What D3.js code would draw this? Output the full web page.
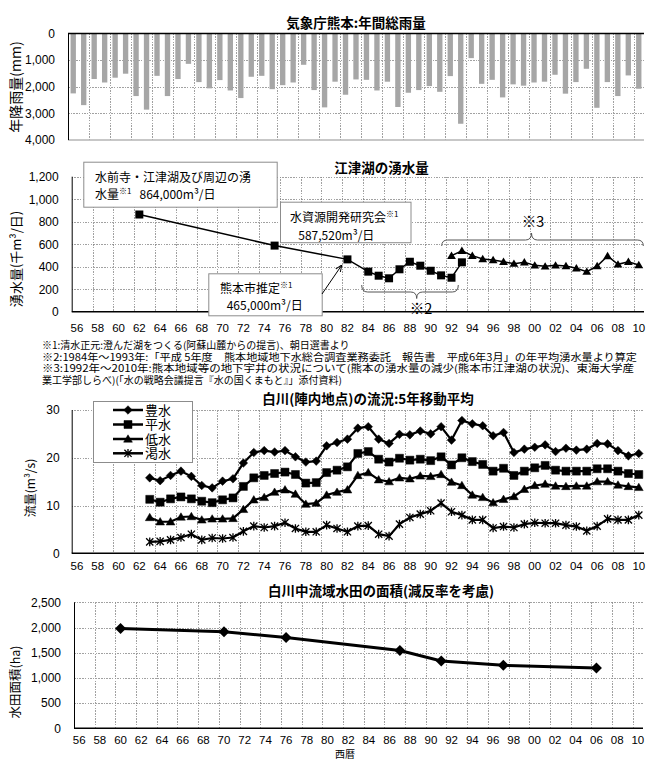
<!DOCTYPE html>
<html><head><meta charset="utf-8">
<script src="https://cdn.jsdelivr.net/npm/d3@7"></script>
<style>
body{margin:0;background:#fff}
svg{display:block}
text{font-family:"Liberation Sans","Noto Sans CJK JP",sans-serif;fill:#000}
.jp{font-family:"Noto Sans CJK JP",sans-serif}
.grid{stroke:#8a8a8a;stroke-width:0.8;stroke-dasharray:1.5,1.2;shape-rendering:crispEdges}
</style>
</head><body>
<svg id="c" width="646" height="760"></svg>
<script>
// ---------- DATA ----------
const years = d3.range(1956, 2011);
const tickYears = d3.range(1956, 2011, 2);
const tickLabels = ["56","58","60","62","64","66","68","70","72","74","76","78","80","82","84","86","88","90","92","94","96","98","00","02","04","06","08","10"];

// 気象庁熊本 年間総雨量 (mm), 1956-2010
const rainfall = [2250,2690,1710,1840,1660,1510,2350,2860,1590,2350,1710,1140,1825,2060,1750,2140,2425,1625,
  1590,2090,1940,1840,1175,2125,2775,1810,2300,1725,1740,2140,1810,2760,2225,2125,1975,2190,
  1600,3390,925,1890,1740,2400,1910,1960,1840,1810,1550,2260,1825,1325,2790,1825,2350,1575,2075];
const rainTicks = [0,1000,2000,3000,4000];

// 江津湖の湧水量 (千m3/日)
const springSqYears = [1962,1975,1982,1984,1985,1986,1987,1988,1989,1990,1991,1992,1993];
const springSqVals  = [864,587.52,465,356,320,297,377,444,409,364,323,302,439];
const springTriYears = d3.range(1992, 2011);
const springTriVals  = [498,542,498,468,460,444,427,439,412,403,412,406,386,356,406,495,421,444,415];
const springTicks = [0,200,400,600,800,1000,1200];

// 白川(陣内地点)の流況 5年移動平均 (m3/s), 1963-2010
const flowYears = d3.range(1963, 2011);
const flowNames = ["豊水","平水","低水","渇水"];
const houSui = [15.8,15.2,16.3,17.2,16.1,14.2,13.7,15.1,15.6,18.9,21.1,21.5,21.2,21.5,20.2,19.1,19.3,22.5,
  23.2,23.9,26.2,26.5,23.9,23.0,24.9,24.8,25.6,25.0,26.5,23.7,27.8,27.1,26.7,24.6,25.3,21.1,21.8,22.2,22.7,21.3,22.0,21.6,21.8,23.0,22.9,21.5,20.4,20.9];
const heiSui = [11.3,10.7,11.4,11.8,11.4,10.9,10.6,11.2,11.6,14.0,15.8,16.3,16.7,17.0,16.5,14.7,14.8,16.9,
  17.4,18.1,20.9,21.3,19.7,19.1,19.9,19.5,19.7,19.4,20.2,18.5,20.0,19.2,18.6,17.2,17.8,16.3,17.2,17.9,18.4,17.4,17.2,17.2,17.2,17.7,17.7,17.2,16.7,16.5];
const teiSui = [7.5,6.6,6.6,7.6,7.7,7.0,7.2,7.2,7.3,9.2,11.2,11.7,12.8,13.3,12.4,10.3,10.5,12.2,
  12.8,13.3,16.3,16.9,15.4,15.0,15.8,15.6,16.2,16.1,16.5,14.9,14.2,12.2,11.7,10.6,11.3,11.9,13.4,14.2,14.5,14.1,14.0,14.1,14.1,15.0,15.0,14.3,14.0,13.8];
const kassui = [2.4,2.5,2.8,3.3,4.0,2.8,3.2,3.1,3.3,4.6,5.7,5.4,5.7,6.4,5.2,4.5,4.5,5.9,
  5.2,4.5,5.7,5.8,4.0,3.6,6.1,7.5,8.2,8.9,10.5,8.7,8.0,7.0,7.0,5.3,5.6,5.4,6.1,6.4,6.3,6.3,5.9,5.6,4.7,5.7,7.2,7.0,7.0,8.0];
const flowTicks = [0,10,20,30];

// 白川中流域水田の面積 (ha)
const paddyYears = [1960,1970,1976,1987,1991,1997,2006];
const paddyVals  = [1980,1915,1800,1545,1335,1250,1195];
const paddyTicks = [0,500,1000,1500,2000,2500];

// ---------- DRAW ----------
const svg = d3.select("#c");
const fmt = d3.format(",");

function panel(o) {
  const x = d3.scaleBand().domain(years).range([o.left, o.right]);
  const y = d3.scaleLinear().domain([0, d3.max(o.ticks)]).range(o.reverse ? [o.top, o.bottom] : [o.bottom, o.top]);
  const g = svg.append("g");
  g.selectAll(null).data(tickYears.slice(1)).join("line").attr("class","grid")
    .attr("x1", d => Math.round(x(d)) + 0.5).attr("x2", d => Math.round(x(d)) + 0.5)
    .attr("y1", o.top).attr("y2", o.bottom);
  g.selectAll(null).data(o.ticks.filter(t => t !== 0 && !(o.reverse && t === d3.max(o.ticks)))).join("line").attr("class","grid")
    .attr("x1", o.left).attr("x2", o.right)
    .attr("y1", d => Math.round(y(d)) + 0.5).attr("y2", d => Math.round(y(d)) + 0.5);
  const ya = g.append("g").attr("transform", `translate(${o.left},0)`)
    .call(d3.axisLeft(y).tickValues(o.ticks).tickSize(0).tickPadding(o.yPad).tickFormat(fmt));
  ya.select(".domain").remove();
  ya.selectAll("text").style("font-size", "12px").style("font-family", "Liberation Sans");
  if (o.showX) {
    const xa = g.append("g").attr("transform", `translate(0,${o.bottom})`)
      .call(d3.axisBottom(x).tickValues(tickYears).tickSize(0).tickPadding(o.xPad).tickFormat((d, i) => tickLabels[i]));
    xa.select(".domain").remove();
    xa.selectAll("text").style("font-size", "11.5px").style("font-family", "Liberation Sans");
  }
  return {x, y, g};
}
function axesLines(p, o) {
  p.g.append("line").attr("x1", o.left + 0.5).attr("x2", o.left + 0.5).attr("y1", o.top).attr("y2", o.bottom)
    .attr("stroke", "#000").attr("stroke-width", 1);
  const yb = o.reverse ? o.top : o.bottom;
  p.g.append("line").attr("x1", o.left).attr("x2", o.right).attr("y1", yb).attr("y2", yb)
    .attr("stroke", "#000").attr("stroke-width", 1.5);
}
function title(txt, cx, y) {
  svg.append("text").attr("class","jp").attr("x", cx).attr("y", y).attr("text-anchor","middle")
    .style("font-size","13.5px").style("font-weight","bold").text(txt);
}
function ylabel(txt, x, cy, size) {
  svg.append("text").attr("class","jp").attr("transform", `translate(${x},${cy}) rotate(-90)`)
    .attr("text-anchor","middle").attr("dominant-baseline","middle").style("font-size", size + "px").text(txt);
}
const diamond = r => `M0,${-r}L${r},0L0,${r}L${-r},0Z`;
const square = r => `M${-r},${-r}H${r}V${r}H${-r}Z`;
const triangle = r => `M0,${-r*1.05}L${r*1.1},${r*0.8}L${-r*1.1},${r*0.8}Z`;
const star = r => `M${-r},${-r}L${r},${r}M${-r},${r}L${r},${-r}M0,${-r*1.2}L0,${r*1.2}`;

// ===== Chart 1: rainfall =====
const o1 = {left:68, right:644, top:33.5, bottom:140, ticks:rainTicks, reverse:true, yPad:13, showX:false};
const p1 = panel(o1);
p1.g.selectAll(null).data(rainfall).join("rect")
  .attr("x", (d, i) => p1.x(years[i]) + p1.x.bandwidth() * 0.245)
  .attr("width", p1.x.bandwidth() * 0.51)
  .attr("y", p1.y(0)).attr("height", d => p1.y(d) - p1.y(0))
  .attr("fill", "#a6a6a6");
p1.g.append("line").attr("x1", o1.left).attr("x2", o1.right).attr("y1", o1.bottom).attr("y2", o1.bottom)
  .attr("stroke", "#b5b5b5").attr("stroke-width", 1.5);
axesLines(p1, o1);
title("気象庁熊本:年間総雨量", 356, 28);
ylabel("年降雨量(mm)", 17, 87, 14);

// ===== Chart 2: spring water =====
const o2 = {left:71.7, right:644, top:176.7, bottom:311.7, ticks:springTicks, yPad:13, xPad:12.5, showX:true};
const p2 = panel(o2);
axesLines(p2, o2);
const cx2 = d => p2.x(d) + p2.x.bandwidth() / 2;
const sq = springSqYears.map((yr, i) => ({yr, v: springSqVals[i]}));
const tr = springTriYears.map((yr, i) => ({yr, v: springTriVals[i]}));
const line2 = d3.line().x(d => cx2(d.yr)).y(d => p2.y(d.v));
p2.g.append("path").attr("d", line2(sq)).attr("fill","none").attr("stroke","#000").attr("stroke-width",1.5);
p2.g.append("path").attr("d", line2(tr)).attr("fill","none").attr("stroke","#000").attr("stroke-width",1.5);
p2.g.selectAll(null).data(sq).join("path").attr("d", square(4))
  .attr("transform", d => `translate(${cx2(d.yr)},${p2.y(d.v)})`).attr("fill","#000");
p2.g.selectAll(null).data(tr).join("path").attr("d", triangle(4))
  .attr("transform", d => `translate(${cx2(d.yr)},${p2.y(d.v)})`).attr("fill","#000");
title("江津湖の湧水量", 381.5, 173);
ylabel("湧水量(千m³/日)", 17, 259, 13);

// braces
const brace = (x1, x2, xt, yEnd, yMid, yTip) =>
  `M${x1},${yEnd}Q${x1},${yMid} ${x1+6},${yMid}L${xt-6},${yMid}Q${xt},${yMid} ${xt},${yTip}` +
  `Q${xt},${yMid} ${xt+6},${yMid}L${x2-6},${yMid}Q${x2},${yMid} ${x2},${yEnd}`;
svg.append("path").attr("d", brace(361.7, 458.3, 416.7, 285, 292, 298.5)).attr("fill","none").attr("stroke","#555").attr("stroke-width",1);
svg.append("path").attr("d", brace(441.7, 643.3, 531.5, 246, 240, 233)).attr("fill","none").attr("stroke","#555").attr("stroke-width",1);
svg.append("text").attr("class","jp").attr("x", 421).attr("y", 313.5).attr("text-anchor","middle").style("font-size","14.5px").text("※2");
svg.append("text").attr("class","jp").attr("x", 533).attr("y", 227).attr("text-anchor","middle").style("font-size","14.5px").text("※3");

// annotation boxes
function box(x, y, w, h) {
  svg.append("rect").attr("x", x + 0.5).attr("y", y + 0.5).attr("width", w).attr("height", h)
    .attr("fill", "#fff").attr("stroke", "#8c8c8c").attr("stroke-width", 1);
}
function supText(x, y, parts) {
  const t = svg.append("text").attr("x", x).attr("y", y).attr("class","jp").style("font-size","12px");
  parts.forEach(p => {
    const ts = t.append("tspan").text(p.t);
    if (p.sup) ts.style("font-size","8px").attr("dy", -5);
    if (p.after) ts.attr("dy", 5);
    if (p.dx) ts.attr("dx", p.dx);
  });
}
box(83.3, 161.7, 193.4, 45);
supText(95, 182, [{t:"水前寺・江津湖及び周辺の湧"}]);
supText(95, 199, [{t:"水量"}, {t:"※1", sup:true}, {t:"864,000m³/日", after:true, dx:8}]);
box(280, 201.7, 130.5, 40.5);
supText(290, 222, [{t:"水資源開発研究会"}, {t:"※1", sup:true}]);
supText(298.3, 239.5, [{t:"587,520m³/日"}]);
box(208.3, 273.3, 113.4, 42);
supText(220, 293, [{t:"熊本市推定"}, {t:"※1", sup:true}]);
supText(226.7, 310, [{t:"465,000m³/日"}]);
// arrow
svg.append("defs").append("marker").attr("id","ah").attr("viewBox","0 0 10 10").attr("refX",9).attr("refY",5)
  .attr("markerWidth",7).attr("markerHeight",7).attr("orient","auto")
  .append("path").attr("d","M0,1L10,5L0,9").attr("fill","none").attr("stroke","#000").attr("stroke-width",1.4);
svg.append("line").attr("x1", 322).attr("y1", 294).attr("x2", 341.5).attr("y2", 265.5)
  .attr("stroke","#000").attr("stroke-width",1).attr("marker-end","url(#ah)");

// notes
const notes = [
  "※1:清水正元:澄んだ湖をつくる(阿蘇山麓からの提言)、朝日選書より",
  "※2:1984年～1993年:「平成 5年度　熊本地域地下水総合調査業務委託　報告書　平成6年3月」の年平均湧水量より算定",
  "※3:1992年～2010年:熊本地域等の地下宇井の状況について(熊本の湧水量の減少(熊本市江津湖の状況)、東海大学産",
  "業工学部しらべ)(「水の戦略会議提言『水の国くまもと』」添付資料)"
];
const noteEnds = [null, 637, 634, null];
notes.forEach((n, i) => {
  const t = svg.append("text").attr("class","jp").attr("x", 42).attr("y", 349 + i * 11.5)
    .style("font-size","10px").text(n);
  if (noteEnds[i]) t.attr("textLength", noteEnds[i] - 42).attr("lengthAdjust","spacingAndGlyphs");
});

// ===== Chart 3: river flow =====
const o3 = {left:71.7, right:644, top:410, bottom:553.3, ticks:flowTicks, yPad:12, xPad:8.3, showX:true};
const p3 = panel(o3);
axesLines(p3, o3);
const cx3 = d => p3.x(d) + p3.x.bandwidth() / 2;
const flowSeries = [houSui, heiSui, teiSui, kassui];
const flowMarkers = [diamond(4.3), square(4), triangle(4), star(3.6)];
const line3 = d3.line().x((d, i) => cx3(flowYears[i])).y(d => p3.y(d));
flowSeries.forEach((s, k) => {
  p3.g.append("path").attr("d", line3(s)).attr("fill","none").attr("stroke","#000").attr("stroke-width",2.2);
  p3.g.selectAll(null).data(s).join("path").attr("d", flowMarkers[k])
    .attr("transform", (d, i) => `translate(${cx3(flowYears[i])},${p3.y(d)})`)
    .attr("fill", k === 3 ? "none" : "#000").attr("stroke", "#000").attr("stroke-width", k === 3 ? 1.3 : 0.5);
});
title("白川(陣内地点)の流況:5年移動平均", 368, 404);
ylabel("流量(m³/s)", 32, 488, 12);
// legend
const lg = svg.append("g");
lg.append("rect").attr("x", 93.5).attr("y", 401.5).attr("width", 99).attr("height", 61)
  .attr("fill","#fff").attr("stroke","#8c8c8c");
const legY = [410, 424.5, 439, 453.3];
flowNames.forEach((n, k) => {
  lg.append("line").attr("x1", 113).attr("x2", 143).attr("y1", legY[k]).attr("y2", legY[k]).attr("stroke","#000").attr("stroke-width",2.5);
  lg.append("path").attr("d", flowMarkers[k]).attr("transform", `translate(128,${legY[k]})`)
    .attr("fill", k === 3 ? "none" : "#000").attr("stroke","#000").attr("stroke-width", k === 3 ? 1.3 : 0.5);
  lg.append("text").attr("class","jp").attr("x", 145).attr("y", legY[k] + 4.6)
    .style("font-size","13px").text(n);
});

// ===== Chart 4: paddy area =====
const o4 = {left:74, right:643, top:602.3, bottom:728.3, ticks:paddyTicks, yPad:13, xPad:8, showX:true};
const p4 = panel(o4);
axesLines(p4, o4);
const cx4 = d => p4.x(d) + p4.x.bandwidth() / 2;
const pd = paddyYears.map((yr, i) => ({yr, v: paddyVals[i]}));
p4.g.append("path").attr("d", d3.line().x(d => cx4(d.yr)).y(d => p4.y(d.v))(pd))
  .attr("fill","none").attr("stroke","#000").attr("stroke-width",3);
p4.g.selectAll(null).data(pd).join("path").attr("d", diamond(5.5))
  .attr("transform", d => `translate(${cx4(d.yr)},${p4.y(d.v)})`).attr("fill","#000");
title("白川中流域水田の面積(減反率を考慮)", 381, 596);
ylabel("水田面積(ha)", 17, 682, 12.5);
svg.append("text").attr("class","jp").attr("x", 345).attr("y", 758).attr("text-anchor","middle")
  .style("font-size","10px").text("西暦");
</script>
</body></html>
